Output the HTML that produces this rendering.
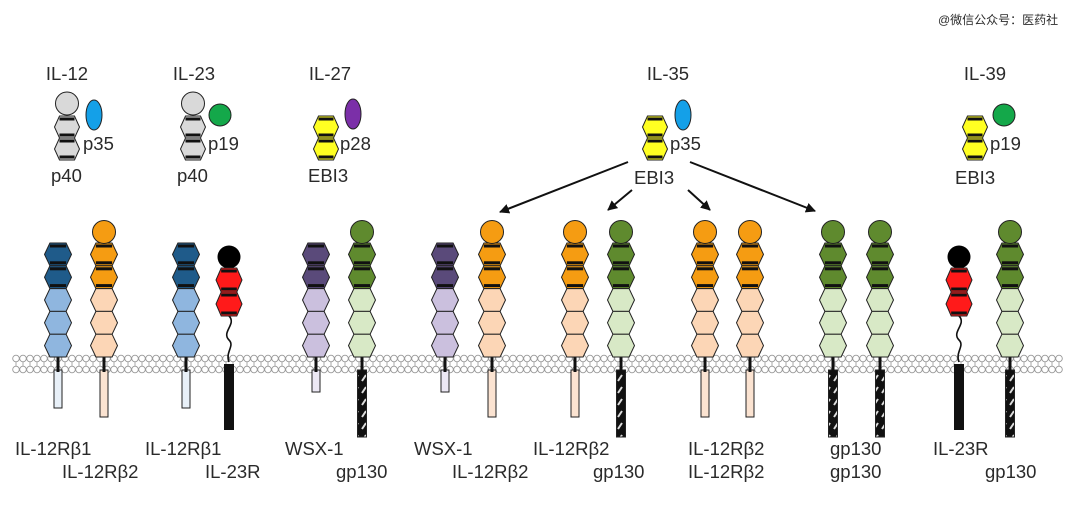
<!DOCTYPE html>
<html><head><meta charset="utf-8"><style>
html,body{margin:0;padding:0;background:#fff;width:1080px;height:511px;overflow:hidden}
svg text{font-family:"Liberation Sans","Noto Sans CJK SC",sans-serif;fill:#2a2a2a}
</style></head><body>
<svg id="s" width="1080" height="511" xmlns="http://www.w3.org/2000/svg">
<defs>
<marker id="ah" markerWidth="10" markerHeight="10" refX="9" refY="5" orient="auto" markerUnits="userSpaceOnUse"><path d="M0,0 L10,5 L0,10 z" fill="#111"/></marker>
<pattern id="st" width="8" height="12" patternUnits="userSpaceOnUse"><rect width="8" height="12" fill="#111"/><path d="M2,9 L6,3" stroke="#ddd" stroke-width="2"/></pattern>
</defs>
<text x="938" y="24" font-size="12" fill="#333">@微信公众号：医药社</text>
<g font-size="18.5">
<text x="67" y="80" text-anchor="middle">IL-12</text>
<text x="194" y="80" text-anchor="middle">IL-23</text>
<text x="330" y="80" text-anchor="middle">IL-27</text>
<text x="668" y="80" text-anchor="middle">IL-35</text>
<text x="985" y="80" text-anchor="middle">IL-39</text>
<text x="83" y="150">p35</text><text x="51" y="182">p40</text>
<text x="208" y="150">p19</text><text x="177" y="182">p40</text>
<text x="340" y="150">p28</text><text x="308" y="182">EBI3</text>
<text x="670" y="150">p35</text><text x="634" y="184">EBI3</text>
<text x="990" y="150">p19</text><text x="955" y="184">EBI3</text>
<text x="15" y="455">IL-12Rβ1</text><text x="62" y="478">IL-12Rβ2</text>
<text x="145" y="455">IL-12Rβ1</text><text x="205" y="478">IL-23R</text>
<text x="285" y="455">WSX-1</text><text x="336" y="478">gp130</text>
<text x="414" y="455">WSX-1</text><text x="452" y="478">IL-12Rβ2</text>
<text x="533" y="455">IL-12Rβ2</text><text x="593" y="478">gp130</text>
<text x="688" y="455">IL-12Rβ2</text><text x="688" y="478">IL-12Rβ2</text>
<text x="830" y="455">gp130</text><text x="830" y="478">gp130</text>
<text x="933" y="455">IL-23R</text><text x="985" y="478">gp130</text>
</g>
<g stroke="#111" stroke-width="2" marker-end="url(#ah)">
<line x1="628" y1="162" x2="500" y2="212"/>
<line x1="632" y1="190" x2="608" y2="210"/>
<line x1="688" y1="190" x2="710" y2="210"/>
<line x1="690" y1="162" x2="815" y2="211"/>
</g>
<g id="mem"></g>
<g id="rec"></g>
</svg>
<script>
const NS="http://www.w3.org/2000/svg";
function el(p,t,a){const e=document.createElementNS(NS,t);for(const k in a)e.setAttribute(k,a[k]);p.appendChild(e);return e}
const mem=document.getElementById('mem'),rec=document.getElementById('rec'),s=document.getElementById('s');
for(let x=16;x<1066;x+=7){
 el(mem,'line',{x1:x,y1:362,x2:x,y2:366,stroke:'#aaa','stroke-width':1});
 el(mem,'circle',{cx:x,cy:358.5,r:3.3,fill:'#fff',stroke:'#999','stroke-width':0.9});
 el(mem,'circle',{cx:x,cy:369.5,r:3.3,fill:'#fff',stroke:'#999','stroke-width':0.9});
}
function hex(g,x,t,h,w,f,band){
 const b=t+h,m=t+h/2,i=w*0.3;
 el(g,'polygon',{points:`${x-i},${t} ${x+i},${t} ${x+w/2},${m} ${x+i},${b} ${x-i},${b} ${x-w/2},${m}`,fill:f,stroke:'#222','stroke-width':1});
 if(band){el(g,'rect',{x:x-i,y:t+1.5,width:2*i,height:3,fill:'#111'});el(g,'rect',{x:x-i,y:b-4.5,width:2*i,height:3,fill:'#111'});}
}
const T={
 b1:{c:null,d:'#1f5b8a',l:'#8fb6df',tail:'#e8f0f8',te:408,tw:8},
 b2:{c:'#f59c12',d:'#f59c12',l:'#fcd6b6',tail:'#fbe3d1',te:417,tw:8},
 w:{c:null,d:'#5a4a7a',l:'#cbc0de',tail:'#ece8f4',te:392,tw:8},
 gp:{c:'#5f8a2e',d:'#5f8a2e',l:'#d8e9c6',tail:'url(#st)',te:437,tw:9},
 r23:{}
};
function receptor(x,t){
 const g=el(rec,'g',{});
 if(t==='r23'){
  el(g,'path',{d:`M${x},316 C${x+8},324 ${x-8},332 ${x},340 C${x+6},346 ${x-4},352 ${x},362`,fill:'none',stroke:'#111','stroke-width':1.6});
  el(g,'rect',{x:x-5,y:364,width:10,height:66,fill:'#111'});
  el(g,'circle',{cx:x,cy:257,r:11.5,fill:'#000'});
  hex(g,x,268,24,26,'#ff1a1a',true);hex(g,x,292,24,26,'#ff1a1a',true);
  return;
 }
 const c=T[t];
 el(g,'rect',{x:x-c.tw/2,y:370,width:c.tw,height:c.te-370,fill:c.tail,stroke:'#222','stroke-width':1});
 el(g,'line',{x1:x,y1:356,x2:x,y2:372,stroke:'#111','stroke-width':3});
 const top=243,h=22.8;
 for(let k=0;k<5;k++)hex(g,x,top+k*h,h,27,k<2?c.d:c.l,k<2);
 if(c.c)el(g,'circle',{cx:x,cy:232,r:11.5,fill:c.c,stroke:'#222','stroke-width':1});
}
[[58,'b1'],[104,'b2'],[186,'b1'],[229,'r23'],[316,'w'],[362,'gp'],[445,'w'],[492,'b2'],[575,'b2'],[621,'gp'],[705,'b2'],[750,'b2'],[833,'gp'],[880,'gp'],[959,'r23'],[1010,'gp']].forEach(a=>receptor(a[0],a[1]));
function cyto(x,f,circle){
 const g=el(s,'g',{});
 if(circle)el(g,'circle',{cx:x,cy:103.5,r:11.5,fill:f,stroke:'#222','stroke-width':1});
 hex(g,x,116,22,25,f,true);hex(g,x,138,22,25,f,true);
}
cyto(67,'#d9d9d9',true);el(s,'ellipse',{cx:94,cy:115,rx:8,ry:15,fill:'#14a0e8',stroke:'#222'});
cyto(193,'#d9d9d9',true);el(s,'circle',{cx:220,cy:115,r:11,fill:'#14a84a',stroke:'#222'});
cyto(326,'#ffff22',false);el(s,'ellipse',{cx:353,cy:114,rx:8,ry:15,fill:'#7b2fa8',stroke:'#222'});
cyto(655,'#ffff22',false);el(s,'ellipse',{cx:683,cy:115,rx:8,ry:15,fill:'#14a0e8',stroke:'#222'});
cyto(975,'#ffff22',false);el(s,'circle',{cx:1004,cy:115,r:11,fill:'#14a84a',stroke:'#222'});
</script>
</body></html>
